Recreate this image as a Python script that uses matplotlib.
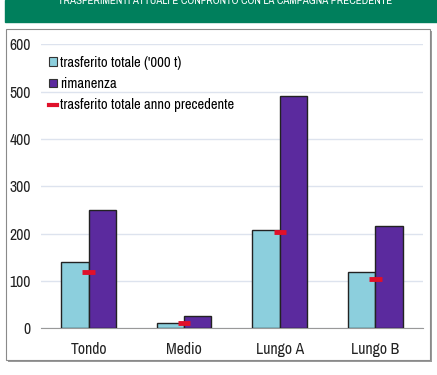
import matplotlib
matplotlib.use("Agg")
import matplotlib.pyplot as plt
from matplotlib import font_manager as fm
from matplotlib.patches import Rectangle, Patch
from matplotlib.lines import Line2D
import numpy as np

# the source uses an Arial Narrow look; take a narrow family if one is installed
nomi = sorted({f.name for f in fm.fontManager.ttflist})
narrow = [n for n in nomi if 'Narrow' in n or 'Condensed' in n]
if narrow:
    plt.rcParams['font.family'] = [narrow[0], 'DejaVu Sans']
    fs = 10.5
else:
    plt.rcParams['font.family'] = ['Liberation Sans', 'DejaVu Sans']
    fs = 9.5

# data
categorie = ['Tondo', 'Medio', 'Lungo A', 'Lungo B']
trasferito = [141, 12, 208, 118]
rimanenza = [250, 25, 490, 216]
trasf_prec = [118, 12, 204, 104]
y_ticks = [0, 100, 200, 300, 400, 500, 600]

titolo = 'TRASFERIMENTI ATTUALI E CONFRONTO CON LA CAMPAGNA PRECEDENTE'

c_light = '#8ccfdd'
c_dark = '#5b2a9e'
c_red = '#e0102a'

fig = plt.figure(figsize=(4.37, 3.75), dpi=100)
W, H = 437, 375

# green banner at the top (title cut off as in the source)
fig.patches.append(Rectangle((5 / W, 1 - 21.7 / H), 1, 21.7 / H,
                             transform=fig.transFigure, color='#007f5c', zorder=0))
t = fig.text(225 / W, 1 - 4.5 / H, titolo, color='white', fontsize=8, fontweight='bold',
             ha='center', va='baseline', zorder=1)
fig.canvas.draw()
larg = t.get_window_extent().width
t.set_fontsize(8 * 334 / larg)

# chart frame with shadow
fig.patches.append(Rectangle((8 / W, 1 - 362 / H), 424 / W, 331 / H,
                             transform=fig.transFigure, facecolor='#9a9a9a',
                             edgecolor='none', zorder=0))
fig.patches.append(Rectangle((6 / W, 1 - 360 / H), 424 / W, 331 / H,
                             transform=fig.transFigure, facecolor='white',
                             edgecolor='#8a8a8a', lw=0.8, zorder=0))

ax = fig.add_axes([40.7 / W, (H - 328.3) / H, 382.5 / W, 284 / H])
ax.set_facecolor('none')
ax.set_zorder(2)

x = np.arange(len(categorie))
w = 0.286
ax.bar(x - w / 2, trasferito, w, color=c_light, edgecolor='#222222', lw=1.0, zorder=3)
ax.bar(x + w / 2, rimanenza, w, color=c_dark, edgecolor='#222222', lw=1.0, zorder=3)
ax.errorbar(x, trasf_prec, xerr=0.065, fmt='none', ecolor=c_red, elinewidth=3.5,
            capsize=0, zorder=4)

ax.set_xlim(-0.5, 3.5)
ax.set_ylim(0, 600)
ax.set_yticks(y_ticks)
ax.set_xticks(x)
ax.set_xticklabels(categorie)
ax.tick_params(axis='both', length=0, labelsize=fs + 0.8, colors='#222222')
ax.tick_params(axis='y', pad=7)
ax.tick_params(axis='x', pad=10)
ax.yaxis.grid(True, color='#dde3ee', lw=1.0, zorder=0)
for s in ['left', 'right', 'top']:
    ax.spines[s].set_visible(False)
ax.spines['bottom'].set_color('#999999')

handles = [Patch(facecolor=c_light, edgecolor='#333333', lw=0.8),
           Patch(facecolor=c_dark, edgecolor='#333333', lw=0.8),
           Line2D([0], [0], color=c_red, lw=3)]
labels = ["trasferito totale ('000 t)", 'rimanenza', 'trasferito totale anno precedente']
ax.legend(handles, labels, loc='upper left', bbox_to_anchor=(0.0, 0.99),
          frameon=False, fontsize=fs, handlelength=0.55, handleheight=0.55,
          handletextpad=0.15, labelspacing=0.5, borderaxespad=0.2)

fig.savefig('out.png', dpi=100)
